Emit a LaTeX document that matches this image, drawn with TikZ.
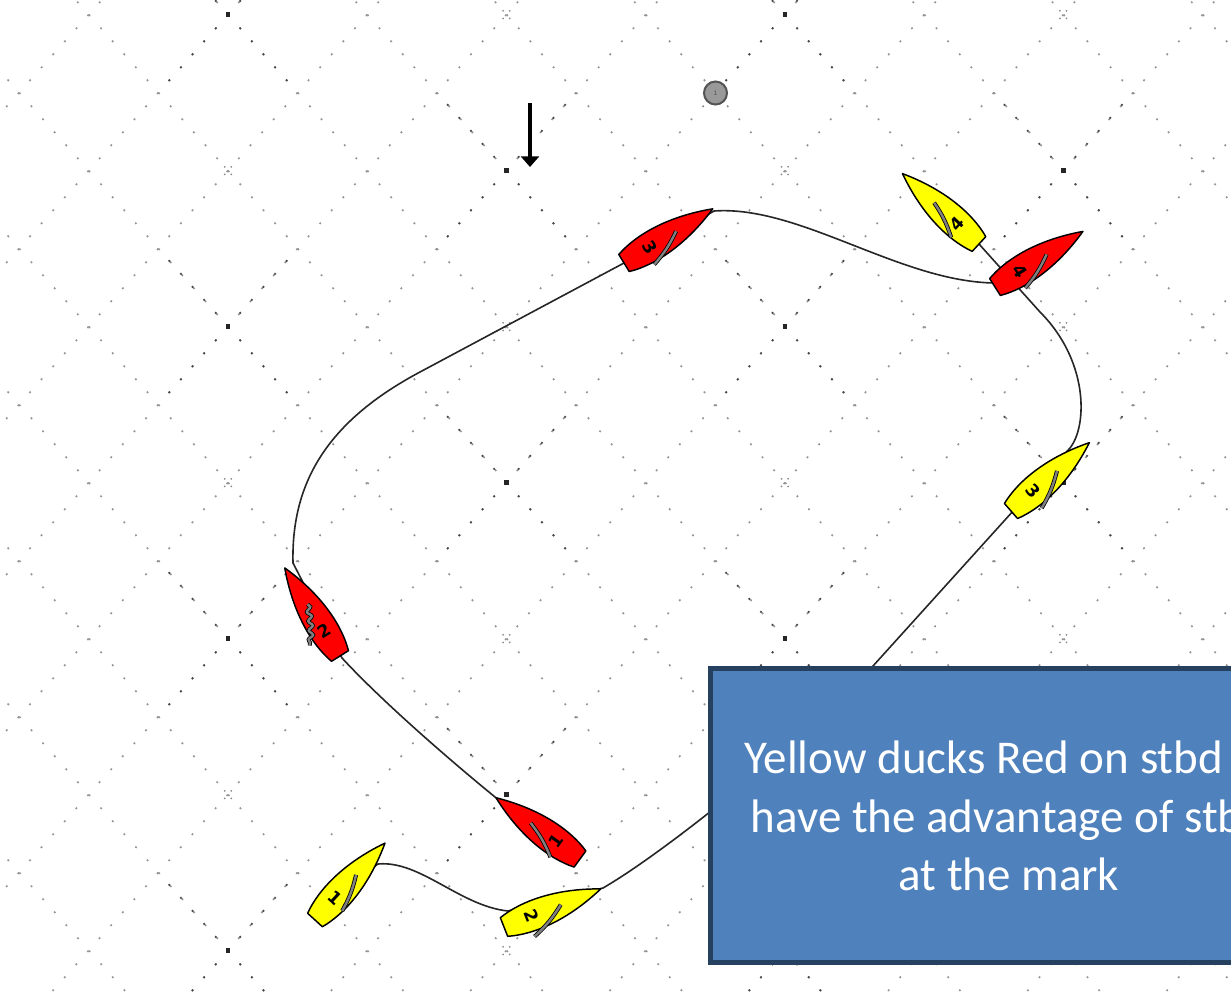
\documentclass[tikz,border=0pt]{standalone}
\usepackage{fontspec}
\newfontfamily\boxfont{Carlito}
\newfontfamily\numfont{DejaVu Sans}
\usetikzlibrary{arrows.meta,decorations.pathmorphing}

\definecolor{boxblue}{HTML}{4F81BD}
\definecolor{boxedge}{HTML}{26405F}
\definecolor{hullred}{HTML}{FF0000}
\definecolor{hullyellow}{HTML}{FFFF00}

\tikzset{
  gridline/.style={draw=black!42, line width=1.2pt, dash pattern=on 1.4pt off 11.67pt},
  gridarm/.style={draw=black!72, line width=1.3pt, dash pattern=on 1.4pt off 11.67pt},
  latticemark/.style={fill=black!85},
  latticedot/.style={fill=black!45},
  hull/.style={draw=black, line width=1.1pt, line join=round},
  sailcloth/.style={draw=black, line width=0.6pt, double=black!50, double distance=1.8pt},
  luffing/.style={decorate, decoration={snake, amplitude=1.6pt, segment length=7pt}},
  track/.style={draw=black!85, line width=1.2pt},
  boatnum/.style={font=\numfont\bfseries\fontsize{13pt}{13pt}\selectfont, inner sep=0pt},
  markbuoy/.style={circle, draw=black!67, fill=black!40, line width=1.5pt,
    minimum size=17.25pt, inner sep=0pt, font=\numfont\fontsize{4.5pt}{4.5pt}\selectfont, text=black!70},
  notebox/.style={draw=boxedge, fill=boxblue, line width=3.75pt,
    minimum width=448.5pt, minimum height=220.5pt, inner sep=0pt},
  notetext/.style={font=\boxfont\fontsize{35.25pt}{44pt}\selectfont, text=white, inner sep=0pt, anchor=base},
}

% transom centre x, y, rotation, hull colour, number, clew offset, sail extras
\newcommand\drawboat[7]{%
  \begin{scope}[shift={(#1,#2)}, rotate=#3]
    \path[hull, fill=#4] (-10,0) -- (10,0)
      .. controls (18,-25) and (17,-62) .. (0,-104)
      .. controls (-17,-62) and (-18,-25) .. (-10,0) -- cycle;
    \path[sailcloth, #7] (0,-61) to[bend left=8] (#6,-25);
    \node[boatnum, rotate=#3] at (0,-30) {#5};
  \end{scope}}

\begin{document}
\begin{tikzpicture}[x=0.75pt, y=-0.75pt]
\useasboundingbox (0,0) rectangle (1231,996);
\clip (0,0) rectangle (1231,996);
\fill[white] (0,0) rectangle (1231,996);

% diagonal course grid
\foreach \k in {-8,...,8}
  \draw[gridline] ({215+139.25*\k+13.04-69.64},-63.4) -- ++(974.96,1092);
\foreach \m in {-2,...,14}
  \draw[gridline] ({241+139.25*\m-13.04+69.64},-63.4) -- ++(-974.96,1092);

% grid corners with their darker arms
\foreach \cx/\cy in {228/14.6, 784.8/14.6, 228/326.6, 784.8/326.6, 228/638.6, 784.8/638.6,
    228/950.6, 784.8/950.6, 506.4/170.6, 1063.2/170.6, 506.4/482.6, 1063.2/482.6,
    506.4/794.6, 1063.2/794.6}{
  \foreach \ax/\ay in {69.64/78, -69.64/78, 69.64/-78, -69.64/-78}
    \draw[gridarm] (\cx,\cy) -- ++(\ax,\ay);
  \fill[latticemark] (\cx-2.3,\cy-2.3) rectangle (\cx+2.3,\cy+2.3);
}

\foreach \cx/\cy in {228/170.6, 784.8/170.6, 228/482.6, 784.8/482.6, 228/794.6, 784.8/794.6,
    506.4/14.6, 1063.2/14.6, 506.4/326.6, 1063.2/326.6, 506.4/638.6, 1063.2/638.6,
    506.4/950.6, 1063.2/950.6}
  \foreach \dx/\dy in {-3.3/-3.8, 3.3/-3.8, -3.3/3.8, 3.3/3.8}
    \fill[latticedot] (\cx+\dx,\cy+\dy) circle (1);

% wind direction and windward mark
\coordinate (windtail) at (530,103);
\coordinate (windtip) at (530,167);
\draw[line width=3pt, -{Triangle[width=13.5pt,length=8pt]}] (windtail) -- (windtip);
\node[markbuoy] (mark) at (715.5,93) {1};

% tracks
\coordinate (ra) at (540,830);
\coordinate (rb) at (495,797);
\coordinate (rc) at (342,658);
\coordinate (rd) at (293,563);
\coordinate (re) at (420,372);
\coordinate (rf) at (624,263);
\coordinate (rg) at (714,211);
\coordinate (rh) at (995,283);
\coordinate (ri) at (1040,258);
\draw[track] (ra) -- (rb) .. controls (440,752) and (378,697) .. (rc) -- (rd)
  .. controls (291,480) and (330,420) .. (re) -- (rf) -- (rg)
  .. controls (800,205) and (900,282) .. (rh) -- (ri);

\coordinate (ya) at (350,882);
\coordinate (yb) at (378,864);
\coordinate (yc) at (508,911);
\coordinate (yd) at (603,888);
\coordinate (ye) at (873,666);
\coordinate (yf) at (1070,448);
\coordinate (yg) at (1040,312);
\coordinate (yh) at (979,244);
\coordinate (yi) at (950,216);
\draw[track] (ya) -- (yb) .. controls (420,860) and (460,906) .. (yc) -- (yd)
  .. controls (672,848) and (820,726) .. (ye) -- (yf)
  .. controls (1088,425) and (1088,360) .. (yg) -- (yh) -- (yi);

% boats
\drawboat{580}{859}{53.9}{hullred}{1}{-16}{}
\drawboat{340}{656}{32.1}{hullred}{2}{-20}{luffing}
\drawboat{624}{263}{-58.6}{hullred}{3}{17}{}
\drawboat{995}{287}{-57.7}{hullred}{4}{17}{}
\drawboat{315}{920}{-42.3}{hullyellow}{1}{14}{}
\drawboat{504}{927}{-68.5}{hullyellow}{2}{20}{}
\drawboat{1011}{511}{-48.9}{hullyellow}{3}{18}{}
\drawboat{979}{244}{47.4}{hullyellow}{4}{-14}{}

% comment box
\node[notebox] (note) at (1009,815.5) {};
\node[notetext] (noteA) at (1009,773) {Yellow ducks Red on stbd to};
\node[notetext] (noteB) at (1009,832) {have the advantage of stbd};
\node[notetext] (noteC) at (1009,890) {at the mark};
\end{tikzpicture}
\end{document}
